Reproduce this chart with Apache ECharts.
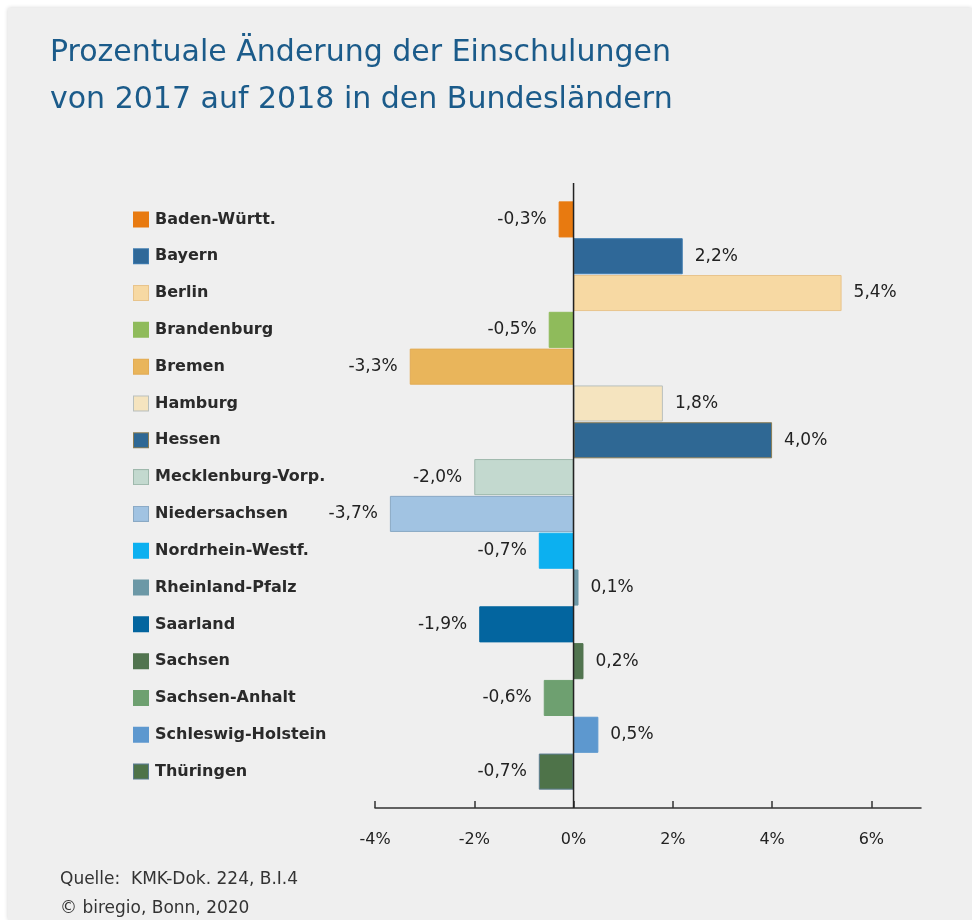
<!DOCTYPE html>
<html lang="de">
<head>
<meta charset="utf-8">
<title>Einschulungen 2017/2018</title>
<script src="https://cdn.jsdelivr.net/npm/echarts@6/dist/echarts.min.js"></script>
<style>
  html, body { margin: 0; padding: 0; background: #ffffff; }
  #chart {
    position: absolute;
    left: 8px;
    top: 8px;
    width: 964px;
    height: 912px;
    box-shadow: 0 0 4px rgba(0, 0, 0, 0.18);
  }
</style>
</head>
<body>
<div id="chart"></div>
<script>
// ---------------------------------------------------
// Data
// ---------------------------------------------------
const states = [
  "Baden-Württ.", "Bayern", "Berlin", "Brandenburg", "Bremen", "Hamburg",
  "Hessen", "Mecklenburg-Vorp.", "Niedersachsen", "Nordrhein-Westf.",
  "Rheinland-Pfalz", "Saarland", "Sachsen", "Sachsen-Anhalt",
  "Schleswig-Holstein", "Thüringen"
];
const changePct = [
  -0.3, 2.2, 5.4, -0.5, -3.3, 1.8, 4.0, -2.0,
  -3.7, -0.7, 0.1, -1.9, 0.2, -0.6, 0.5, -0.7
];
const xTicks = [-4, -2, 0, 2, 4, 6];

// one colour per state (fill / border)
const barColors = [
  "#e87a10", "#2f6898", "#f7d9a3", "#8fbb5b", "#e9b55b", "#f5e4bf",
  "#2f6894", "#c3d9cf", "#a1c3e2", "#0cb0f0", "#6c98a6", "#03659f",
  "#51744f", "#6ea070", "#5d98cf", "#4e7349"
];
const barBorders = [
  "#e87a10", "#3f7cb0", "#e8c48c", "#8fbb5b", "#e2ac55", "#b9c0bd",
  "#8a7d55", "#9eb8ac", "#8aa9c4", "#0cb0f0", "#6c98a6", "#03659f",
  "#51744f", "#6ea070", "#5d98cf", "#5b7c92"
];

const FONT = "DejaVu Sans";
const fmtPct = v => `${v.toFixed(1).replace(".", ",")}%`;

// ---------------------------------------------------
// Chart
// ---------------------------------------------------
const chart = echarts.init(document.getElementById("chart"));

const GRID_TOP = 193;
const AXIS_Y = 800;

// rich styles for the legend-like category labels
const rich = {
  name: {
    fontFamily: FONT,
    fontSize: 16,
    fontWeight: "bold",
    color: "#2a2a2a",
    padding: [0, 0, 0, 7]
  }
};
barColors.forEach((c, i) => {
  rich["sq" + i] = {
    width: 14,
    height: 14,
    backgroundColor: c,
    borderColor: barBorders[i],
    borderWidth: 1
  };
});

chart.setOption({
  backgroundColor: "#efefef",
  animation: false,
  title: [
    {
      text: "Prozentuale Änderung der Einschulungen\nvon 2017 auf 2018 in den Bundesländern",
      left: 42,
      top: 22,
      padding: 0,
      textStyle: {
        fontFamily: FONT,
        fontSize: 30,
        fontWeight: "normal",
        color: "#1b5b8a",
        lineHeight: 47
      }
    },
    {
      text: "Quelle:  KMK-Dok. 224, B.I.4\n© biregio, Bonn, 2020",
      left: 52,
      top: 857,
      padding: 0,
      textStyle: {
        fontFamily: FONT,
        fontSize: 17,
        fontWeight: "normal",
        color: "#333333",
        lineHeight: 29
      }
    }
  ],
  grid: {
    left: 367,
    right: 51,
    top: GRID_TOP,
    bottom: 130,
    containLabel: false
  },
  xAxis: {
    type: "value",
    min: -4,
    max: 7,
    interval: 2,
    offset: AXIS_Y - 782,
    splitLine: { show: false },
    axisLine: { show: true, lineStyle: { color: "#333333", width: 1.5 } },
    axisTick: {
      show: true,
      inside: true,
      length: 7,
      customValues: xTicks,
      lineStyle: { color: "#333333", width: 1.5 }
    },
    axisLabel: {
      customValues: xTicks,
      margin: 24,
      fontFamily: FONT,
      fontSize: 16,
      color: "#222222",
      formatter: v => `${v}%`
    }
  },
  yAxis: {
    type: "category",
    inverse: true,
    data: states,
    axisLine: { show: false },
    axisTick: { show: false },
    axisLabel: {
      align: "left",
      margin: 241,
      formatter: (val, idx) => `{sq${idx}|}{name|${val}}`,
      rich: rich
    }
  },
  series: [
    {
      type: "bar",
      barCategoryGap: "2%",
      data: changePct.map((v, i) => ({
        value: v,
        itemStyle: {
          color: barColors[i],
          borderColor: barBorders[i],
          borderWidth: 1
        },
        label: { position: v < 0 ? "left" : "right" }
      })),
      label: {
        show: true,
        distance: 12,
        fontFamily: FONT,
        fontSize: 17,
        color: "#222222",
        formatter: p => fmtPct(p.value)
      }
    }
  ]
});

// ---------------------------------------------------
// Zero line (runs past the bars, down to the x axis)
// ---------------------------------------------------
const x0 = chart.convertToPixel({ xAxisIndex: 0 }, 0);
chart.setOption({
  graphic: [
    {
      type: "line",
      z: 100,
      shape: { x1: x0, y1: GRID_TOP - 18, x2: x0, y2: AXIS_Y },
      style: { stroke: "#222222", lineWidth: 1.5 }
    }
  ]
});

window.addEventListener("resize", chart.resize);
</script>
</body>
</html>
